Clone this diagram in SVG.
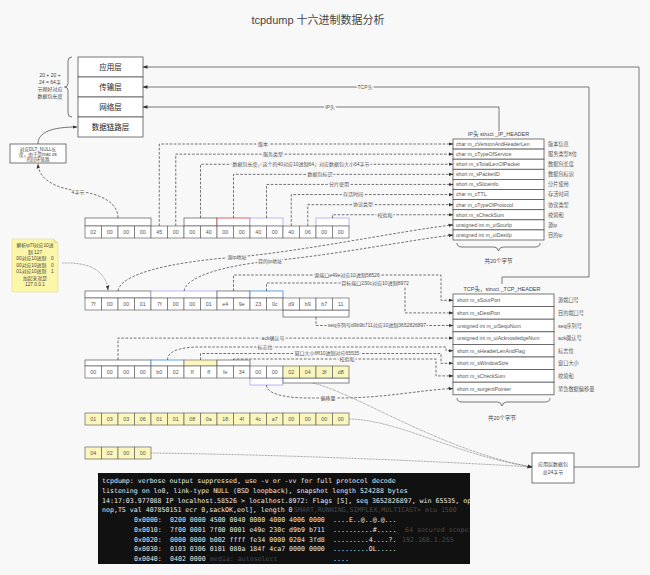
<svg xmlns="http://www.w3.org/2000/svg" width="650" height="575" viewBox="0 0 650 575">
<style>
text{font-family:"Liberation Sans","Noto Sans CJK SC",sans-serif;fill:#444}
.c{fill:#fff;stroke:#666;stroke-width:0.7}
.y{fill:#fbf6bd;stroke:#666;stroke-width:0.7}
.ht text{font-size:5.3px;text-anchor:middle;fill:#555}
.bk{fill:#fff;stroke:#555;stroke-width:0.7}
.bp{fill:#fff;stroke:#a9a9f2;stroke-width:0.8}
.br{fill:#fff;stroke:#e23b3b;stroke-width:0.8}
.bb{fill:#fff;stroke:#3b8de0;stroke-width:0.8}
.by{fill:#fbf6bd;stroke:#777;stroke-width:0.7}
.d{fill:none;stroke:#444;stroke-width:0.75;stroke-dasharray:2.6 1.6}
.s{fill:none;stroke:#555;stroke-width:0.8}
.o{fill:none;stroke:#666;stroke-width:0.7;stroke-dasharray:0.8 0.7}
.lb{font-size:5px;text-anchor:middle;fill:#555;paint-order:stroke;stroke:#f8f8f8;stroke-width:3px;stroke-linejoin:round}
.f text{font-size:5.2px;fill:#555}
.box{fill:#fff;stroke:#555;stroke-width:0.8}
.ly{font-size:7.5px;text-anchor:middle;fill:#222}
.term text{font-family:"DejaVu Sans Mono",monospace;font-size:6.6px;fill:#e8e8e8}
.term text.gh{fill:#4a4a4a}
</style>
<defs>
<marker id="ar" viewBox="0 0 10 10" refX="9" refY="5" markerWidth="5" markerHeight="5" markerUnits="userSpaceOnUse" orient="auto"><path d="M0,1.5L10,5L0,8.5z" fill="#333"/></marker>
<clipPath id="tc"><rect x="98" y="473" width="372" height="91"/></clipPath>
</defs>
<rect width="650" height="575" fill="#f8f8f8"/>
<text x="318" y="24" font-size="11" text-anchor="middle" fill="#222">tcpdump 十六进制数据分析</text>

<!-- layers -->
<g id="layer-app"><rect class="box" x="78" y="57" width="65" height="20"/><text class="ly" x="110.5" y="70">应用层</text></g>
<g id="layer-transport"><rect class="box" x="78" y="77" width="65" height="20"/><text class="ly" x="110.5" y="90">传输层</text></g>
<g id="layer-network"><rect class="box" x="78" y="97" width="65" height="20"/><text class="ly" x="110.5" y="110">网络层</text></g>
<g id="layer-link"><rect class="box" x="78" y="117" width="65" height="20"/><text class="ly" x="110.5" y="130">数据链路层</text></g>
<g id="layer-brace">
<path class="s" d="M72,57 Q68,57 68,61 V83.5 Q68,87 64.5,87 Q68,87 68,90.5 V113 Q68,117 72,117"/>
<text font-size="5" text-anchor="middle" x="50" y="77">20 + 20 +</text>
<text font-size="5" text-anchor="middle" x="50" y="84">24 = 64字</text>
<text font-size="5" text-anchor="middle" x="50" y="91">节刚好对应</text>
<text font-size="5" text-anchor="middle" x="50" y="98">数据包长度</text>
</g>

<!-- DLT note -->
<g id="dlt-note"><rect class="box" x="10" y="144" width="56" height="19"/>
<text font-size="4.6" text-anchor="middle" x="38" y="150.5">对应DLT_NULL长</text>
<text font-size="4.6" text-anchor="middle" x="38" y="155.8">度，由于是mac os</text>
<text font-size="4.6" text-anchor="middle" x="38" y="161">的回环链路</text></g>

<!-- yellow note -->
<g id="ip-note"><path d="M12,239 H54 L58,243 V292 H12 Z" fill="#fcf7a8" stroke="#e2da92" stroke-width="0.6"/><path d="M54,239 V243 H58" fill="#ece48f" stroke="#d8d08a" stroke-width="0.5"/>
<g font-size="4.8" text-anchor="middle">
<text x="35" y="247">解析ip7f对应10进</text>
<text x="35" y="253.5">制 127</text>
<text x="35" y="260">00对应10进制　0</text>
<text x="35" y="266.5">00对应10进制　0</text>
<text x="35" y="273">01对应10进制　1</text>
<text x="35" y="279.5">加起来就是</text>
<text x="35" y="286">127.0.0.1</text></g></g>

<!-- row 1 -->
<g id="row1" transform="translate(85,226)">
<rect class="bk" x="0" y="-8" width="66" height="8"/><rect class="bk" x="99" y="-8" width="33" height="8"/><rect class="br" x="132" y="-8" width="33" height="8"/><rect class="bp" x="165" y="-8" width="33" height="8"/><rect class="bp" x="231" y="-8" width="33" height="8"/>
<g class="c"><rect x="0" width="16.5" height="12"/><rect x="16.5" width="16.5" height="12"/><rect x="33" width="16.5" height="12"/><rect x="49.5" width="16.5" height="12"/><rect x="66" width="16.5" height="12"/><rect x="82.5" width="16.5" height="12"/><rect x="99" width="16.5" height="12"/><rect x="115.5" width="16.5" height="12"/><rect x="132" width="16.5" height="12"/><rect x="148.5" width="16.5" height="12"/><rect x="165" width="16.5" height="12"/><rect x="181.5" width="16.5" height="12"/><rect x="198" width="16.5" height="12"/><rect x="214.5" width="16.5" height="12"/><rect x="231" width="16.5" height="12"/><rect x="247.5" width="16.5" height="12"/></g>
<g class="ht"><text x="8.25" y="8">02</text><text x="24.75" y="8">00</text><text x="41.25" y="8">00</text><text x="57.75" y="8">00</text><text x="74.25" y="8">45</text><text x="90.75" y="8">00</text><text x="107.25" y="8">00</text><text x="123.75" y="8">40</text><text x="140.25" y="8">00</text><text x="156.75" y="8">00</text><text x="173.25" y="8">40</text><text x="189.75" y="8">00</text><text x="206.25" y="8">40</text><text x="222.75" y="8">06</text><text x="239.25" y="8">00</text><text x="255.75" y="8">00</text></g>
</g>

<!-- row 2 -->
<g id="row2" transform="translate(85,298)">
<rect class="bk" x="0" y="-7" width="66" height="7"/><rect class="bp" x="66" y="-7" width="66" height="7"/><rect class="bk" x="132" y="-7" width="33" height="7"/><rect class="bb" x="165" y="-7" width="33" height="7"/><rect class="bk" x="198" y="12" width="66" height="7"/>
<g class="c"><rect x="0" width="16.5" height="12"/><rect x="16.5" width="16.5" height="12"/><rect x="33" width="16.5" height="12"/><rect x="49.5" width="16.5" height="12"/><rect x="66" width="16.5" height="12"/><rect x="82.5" width="16.5" height="12"/><rect x="99" width="16.5" height="12"/><rect x="115.5" width="16.5" height="12"/><rect x="132" width="16.5" height="12"/><rect x="148.5" width="16.5" height="12"/><rect x="165" width="16.5" height="12"/><rect x="181.5" width="16.5" height="12"/><rect x="198" width="16.5" height="12"/><rect x="214.5" width="16.5" height="12"/><rect x="231" width="16.5" height="12"/><rect x="247.5" width="16.5" height="12"/></g>
<g class="ht"><text x="8.25" y="8">7f</text><text x="24.75" y="8">00</text><text x="41.25" y="8">00</text><text x="57.75" y="8">01</text><text x="74.25" y="8">7f</text><text x="90.75" y="8">00</text><text x="107.25" y="8">00</text><text x="123.75" y="8">01</text><text x="140.25" y="8">e4</text><text x="156.75" y="8">9e</text><text x="173.25" y="8">23</text><text x="189.75" y="8">0c</text><text x="206.25" y="8">d9</text><text x="222.75" y="8">b9</text><text x="239.25" y="8">b7</text><text x="255.75" y="8">11</text></g>
</g>

<!-- row 3 -->
<g id="row3" transform="translate(85,366)">
<rect class="bk" x="0" y="-6" width="66" height="6"/><rect class="bb" x="66" y="-6" width="33" height="6"/><rect class="by" x="99" y="-6" width="33" height="6"/><rect class="bk" x="132" y="-6" width="33" height="6"/><rect class="bp" x="165" y="12" width="33" height="7"/><rect class="bk" x="198" y="12" width="66" height="5"/>
<g class="c"><rect x="0" width="16.5" height="12"/><rect x="16.5" width="16.5" height="12"/><rect x="33" width="16.5" height="12"/><rect x="49.5" width="16.5" height="12"/><rect x="66" width="16.5" height="12"/><rect x="82.5" width="16.5" height="12"/><rect x="99" width="16.5" height="12"/><rect x="115.5" width="16.5" height="12"/><rect x="132" width="16.5" height="12"/><rect x="148.5" width="16.5" height="12"/><rect x="165" width="16.5" height="12"/><rect x="181.5" width="16.5" height="12"/></g>
<g class="y"><rect x="198" width="16.5" height="12"/><rect x="214.5" width="16.5" height="12"/><rect x="231" width="16.5" height="12"/><rect x="247.5" width="16.5" height="12"/></g>
<g class="ht"><text x="8.25" y="8">00</text><text x="24.75" y="8">00</text><text x="41.25" y="8">00</text><text x="57.75" y="8">00</text><text x="74.25" y="8">b0</text><text x="90.75" y="8">02</text><text x="107.25" y="8">ff</text><text x="123.75" y="8">ff</text><text x="140.25" y="8">fe</text><text x="156.75" y="8">34</text><text x="173.25" y="8">00</text><text x="189.75" y="8">00</text><text x="206.25" y="8">02</text><text x="222.75" y="8">04</text><text x="239.25" y="8">3f</text><text x="255.75" y="8">d8</text></g>
</g>

<!-- row 4 -->
<g id="row4" transform="translate(85,413)">
<g class="y"><rect x="0" width="16.5" height="12"/><rect x="16.5" width="16.5" height="12"/><rect x="33" width="16.5" height="12"/><rect x="49.5" width="16.5" height="12"/><rect x="66" width="16.5" height="12"/><rect x="82.5" width="16.5" height="12"/><rect x="99" width="16.5" height="12"/><rect x="115.5" width="16.5" height="12"/><rect x="132" width="16.5" height="12"/><rect x="148.5" width="16.5" height="12"/><rect x="165" width="16.5" height="12"/><rect x="181.5" width="16.5" height="12"/><rect x="198" width="16.5" height="12"/><rect x="214.5" width="16.5" height="12"/><rect x="231" width="16.5" height="12"/><rect x="247.5" width="16.5" height="12"/></g>
<g class="ht"><text x="8.25" y="8">01</text><text x="24.75" y="8">03</text><text x="41.25" y="8">03</text><text x="57.75" y="8">06</text><text x="74.25" y="8">01</text><text x="90.75" y="8">01</text><text x="107.25" y="8">08</text><text x="123.75" y="8">0a</text><text x="140.25" y="8">18</text><text x="156.75" y="8">4f</text><text x="173.25" y="8">4c</text><text x="189.75" y="8">a7</text><text x="206.25" y="8">00</text><text x="222.75" y="8">00</text><text x="239.25" y="8">00</text><text x="255.75" y="8">00</text></g>
</g>

<!-- row 5 -->
<g id="row5" transform="translate(85,447)">
<g class="y"><rect x="0" width="16.5" height="12"/><rect x="16.5" width="16.5" height="12"/><rect x="33" width="16.5" height="12"/><rect x="49.5" width="16.5" height="12"/></g>
<g class="ht"><text x="8.25" y="8">04</text><text x="24.75" y="8">02</text><text x="41.25" y="8">00</text><text x="57.75" y="8">00</text></g>
</g>

<!-- IP header -->
<g id="ip-header">
<text x="498.5" y="135.5" font-size="5.5" text-anchor="middle" fill="#333">IP头 struct _IP_HEADER</text>
<g class="box"><rect x="453" y="139" width="91" height="10.1"/><rect x="453" y="149.1" width="91" height="10.1"/><rect x="453" y="159.2" width="91" height="10.1"/><rect x="453" y="169.3" width="91" height="10.1"/><rect x="453" y="179.4" width="91" height="10.1"/><rect x="453" y="189.5" width="91" height="10.1"/><rect x="453" y="199.6" width="91" height="10.1"/><rect x="453" y="209.7" width="91" height="10.1"/><rect x="453" y="219.8" width="91" height="10.1"/><rect x="453" y="229.9" width="91" height="10.1"/></g>
<g class="f"><text x="456" y="145.9">char m_cVersionAndHeaderLen</text><text x="456" y="156">char m_cTypeOfService</text><text x="456" y="166.1">short m_sTotalLenOfPacket</text><text x="456" y="176.2">short m_sPacketID</text><text x="456" y="186.3">short m_sSliceinfo</text><text x="456" y="196.4">char m_cTTL</text><text x="456" y="206.5">char m_cTypeOfProtocol</text><text x="456" y="216.6">short m_sCheckSum</text><text x="456" y="226.7">unsigned int m_uiSourIp</text><text x="456" y="236.8">unsigned int m_uiDestIp</text></g>
<g class="f"><text x="548" y="145.9">版本信息</text><text x="548" y="156">服务类型8位</text><text x="548" y="166.1">数据包长度</text><text x="548" y="176.2">数据包标识</text><text x="548" y="186.3">分片使用</text><text x="548" y="196.4">存活时间</text><text x="548" y="206.5">协议类型</text><text x="548" y="216.6">校验和</text><text x="548" y="226.7">源ip</text><text x="548" y="236.8">目的ip</text></g>
<path class="s" d="M457,243 Q457,247 462,247 H494 Q497.5,247 498.5,251 Q499.5,247 503,247 H535 Q540,247 540,243"/>
<text x="498.5" y="263" font-size="5.5" text-anchor="middle" fill="#333">共20个字节</text>
</g>

<!-- TCP header -->
<g id="tcp-header">
<text x="502" y="290.5" font-size="5.5" text-anchor="middle" fill="#333">TCP头，struct _TCP_HEADER</text>
<g class="box"><rect x="453" y="294" width="101" height="12.6"/><rect x="453" y="306.6" width="101" height="12.6"/><rect x="453" y="319.2" width="101" height="12.6"/><rect x="453" y="331.8" width="101" height="12.6"/><rect x="453" y="344.4" width="101" height="12.6"/><rect x="453" y="357" width="101" height="12.6"/><rect x="453" y="369.6" width="101" height="12.6"/><rect x="453" y="382.2" width="101" height="12.6"/></g>
<g class="f"><text x="457" y="302.3">short m_sSourPort</text><text x="457" y="314.9">short m_sDestPort</text><text x="457" y="327.5">unsigned int m_uiSequNum</text><text x="457" y="340.1">unsigned int m_uiAcknowledgeNum</text><text x="457" y="352.7">short m_sHeaderLenAndFlag</text><text x="457" y="365.3">short m_sWindowSize</text><text x="457" y="377.9">short m_sCheckSum</text><text x="457" y="390.5">short m_surgentPointer</text></g>
<g class="f"><text x="558" y="302.3">源端口号</text><text x="558" y="314.9">目的端口号</text><text x="558" y="327.5">seq序列号</text><text x="558" y="340.1">ack确认号</text><text x="558" y="352.7">标志位</text><text x="558" y="365.3">窗口大小</text><text x="558" y="377.9">校验和</text><text x="558" y="390.5">紧急数据偏移量</text></g>
<path class="s" d="M457,398 Q457,402 462,402 H497.5 Q501,402 502,406 Q503,402 506.5,402 H545 Q550,402 550,398"/>
<text x="502" y="420" font-size="5.5" text-anchor="middle" fill="#333">共20个字节</text>
</g>

<!-- app data box -->
<g id="app-data"><rect class="box" x="532" y="453" width="42" height="30"/>
<text font-size="5" text-anchor="middle" x="553" y="465.5">应用层数据包</text>
<text font-size="5" text-anchor="middle" x="553" y="473.5">总24字节</text></g>

<!-- terminal -->
<g id="terminal">
<rect x="98" y="473" width="372" height="91" fill="#111"/>
<g clip-path="url(#tc)" class="term">
<text x="102" y="483">tcpdump: verbose output suppressed, use -v or -vv for full protocol decode</text>
<text x="102" y="492.75">listening on lo0, link-type NULL (BSD loopback), snapshot length 524288 bytes</text>
<text x="102" y="502.5">14:17:03.977088 IP localhost.58526 &gt; localhost.8972: Flags [S], seq 3652826897, win 65535, op</text>
<text x="102" y="512.25">nop,TS val 407850151 ecr 0,sackOK,eol], length 0</text>
<text x="294" y="512.25" class="gh">SMART,RUNNING,SIMPLEX,MULTICAST&gt; mtu 1500</text>
<text x="134" y="522">0x0000:</text><text x="170" y="522">0200 0000 4500 0040 0000 4000 4006 0000</text><text x="333" y="522">....E..@..@.@...</text>
<text x="134" y="531.75">0x0010:</text><text x="170" y="531.75">7f00 0001 7f00 0001 e49e 230c d9b9 b711</text><text x="333" y="531.75">..........#.....</text><text x="405" y="531.75" class="gh">64 secured scopeid</text>
<text x="134" y="541.5">0x0020:</text><text x="170" y="541.5">0000 0000 b002 ffff fe34 0000 0204 3fd8</text><text x="333" y="541.5">.........4....?.</text><text x="402" y="541.5" class="gh">192.168.1.255</text>
<text x="134" y="551.25">0x0030:</text><text x="170" y="551.25">0103 0306 0101 080a 184f 4ca7 0000 0000</text><text x="333" y="551.25">.........OL.....</text>
<text x="134" y="561">0x0040:</text><text x="170" y="561">0402 0000</text><text x="210" y="561" class="gh">media: autoselect</text><text x="333" y="561">....</text>
</g></g>

<!-- connectors -->
<g id="connectors">
<path class="s" d="M574,467 H639 V67 H143" marker-end="url(#ar)"/>
<path class="s" d="M502,284 V277 H589 V87 H143" marker-end="url(#ar)"/>
<path class="s" d="M499,131 V107 H143" marker-end="url(#ar)"/>
<text class="lb" x="365" y="89">TCP头</text>
<text class="lb" x="330" y="109">IP头</text>
<path class="s" d="M38,144 C38,132 52,127 77,127" marker-end="url(#ar)"/>
<path class="d" d="M118,218 C118,202 100,194 78,191 C56,188 39,180 38,164" marker-end="url(#ar)"/>
<text class="lb" x="78" y="193.5">4字节</text>
<path class="o" d="M62,263 C88,262 106,270 108,290" marker-end="url(#ar)"/>

<path class="d" d="M159.25,226 V144 H453" marker-end="url(#ar)"/>
<path class="d" d="M175.75,226 V154.15 H453" marker-end="url(#ar)"/>
<path class="d" d="M200.5,218 V164.25 H453" marker-end="url(#ar)"/>
<path class="d" d="M233.5,218 V174.35 H453" marker-end="url(#ar)"/>
<path class="d" d="M266.5,218 V184.45 H453" marker-end="url(#ar)"/>
<path class="d" d="M291.25,226 V194.55 H453" marker-end="url(#ar)"/>
<path class="d" d="M307.75,226 V204.65 H453" marker-end="url(#ar)"/>
<path class="d" d="M332.5,218 V214.75 H453" marker-end="url(#ar)"/>
<text class="lb" x="263" y="145.8">版本</text>
<text class="lb" x="273" y="155.9">服务类型</text>
<text class="lb" x="301" y="166">数据包长度，这个的40对应10进制64，对应数据包大小64字节</text>
<text class="lb" x="320" y="176.1">数据包标识</text>
<text class="lb" x="339" y="186.2">分片使用</text>
<text class="lb" x="353" y="196.3">存活时间</text>
<text class="lb" x="363" y="206.4">协议类型</text>
<text class="lb" x="385" y="216.5">校验和</text>

<path class="d" d="M118,291 C120,274 170,262 237,257 C305,251 400,231 453,224.85" marker-end="url(#ar)"/>
<path class="d" d="M184,291 C186,277 222,266 270,261 C335,255 410,240 453,234.95" marker-end="url(#ar)"/>
<text class="lb" x="237" y="259">源ip地址</text>
<text class="lb" x="270" y="263">目的ip地址</text>

<path class="d" d="M233.5,291 V275 H441 V300.3 H453" marker-end="url(#ar)"/>
<path class="d" d="M266.5,291 V283 H405 V312.9 H453" marker-end="url(#ar)"/>
<text class="lb" x="347" y="276.8">源端口e49e对应10进制58526</text>
<text class="lb" x="375" y="284.8">目标端口230c对应10进制8972</text>
<path class="d" d="M316,317 V325.5 H453" marker-end="url(#ar)"/>
<text class="lb" x="377" y="327.3">seq序列号d9b9b711对应10进制3652826897</text>
<path class="d" d="M118,360 V338.1 H453" marker-end="url(#ar)"/>
<text class="lb" x="273" y="339.9">ack确认号</text>
<path class="d" d="M167.5,360 C167.5,351 180,347 200,347 H446 V350.7 H453" marker-end="url(#ar)"/>
<text class="lb" x="265" y="348.8">标志位</text>
<path class="d" d="M200.5,360 V353.5 H441 V363.3 H453" marker-end="url(#ar)"/>
<text class="lb" x="327" y="355.3">窗口大小ffff10进制对应65535</text>
<path class="d" d="M233.5,360 V359 H436 V375.9 H453" marker-end="url(#ar)"/>
<text class="lb" x="347" y="360.8">校验和</text>
<path class="d" d="M266.5,385 C266.5,394 285,398 310,398 H340 C385,398 420,390 453,388.5" marker-end="url(#ar)"/>
<text class="lb" x="328" y="399.8">偏移量</text>

<path class="o" d="M313,383 C360,395 440,450 532,467" marker-end="url(#ar)"/>
<path class="o" d="M349,419 C400,420 455,455 532,467" marker-end="url(#ar)"/>
<path class="o" d="M151,453 C300,455 450,462 532,467" marker-end="url(#ar)"/>
</g>
</svg>
